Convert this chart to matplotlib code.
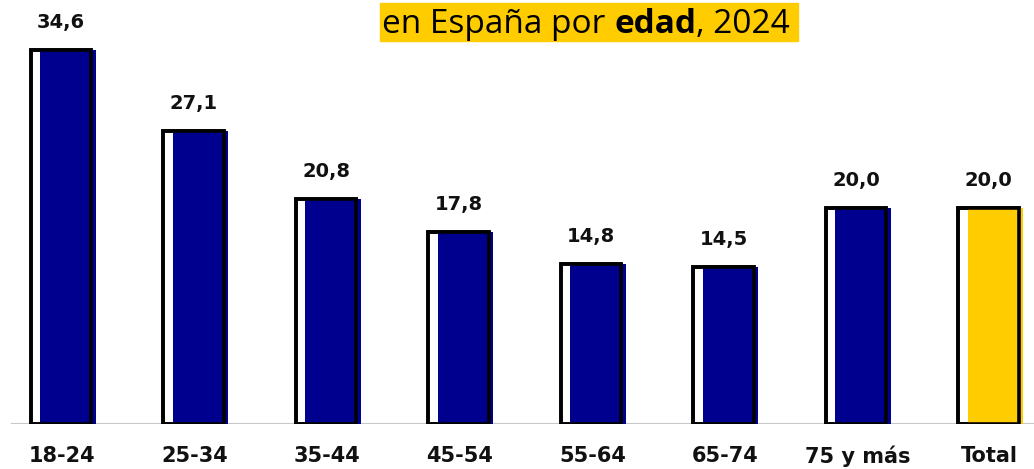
import matplotlib.pyplot as plt
from matplotlib.patches import Rectangle

categories = ["18-24", "25-34", "35-44", "45-54", "55-64", "65-74", "75 y más", "Total"]
values = [34.6, 27.1, 20.8, 17.8, 14.8, 14.5, 20.0, 20.0]
labels = ["34,6", "27,1", "20,8", "17,8", "14,8", "14,5", "20,0", "20,0"]

blue = "#00008f"
yellow = "#ffcc00"
colors = [blue] * 7 + [yellow]

W, H = 1034, 469
fig = plt.figure(figsize=(W / 100, H / 100), dpi=100)
ax = fig.add_axes([0, (H - 424) / H, 1, 424 / H])

x = list(range(len(categories)))
xb = [i + 0.053 for i in x]

# white box behind, coloured bar, outline on top
ax.bar(x, values, width=0.453, color="white", edgecolor="black", linewidth=2.6, zorder=2)
ax.bar(xb, values, width=0.42, color=colors, linewidth=0, zorder=3)
ax.bar(x, values, width=0.453, fill=False, edgecolor="black", linewidth=2.6, zorder=4)

ax.axhline(0, xmin=12 / W, xmax=1, color="#c8c8c8", linewidth=1.5, zorder=1)

for i, v in enumerate(values):
    ax.annotate(labels[i], (x[i], v), xytext=(0, 18), textcoords="offset pixels",
                ha="center", va="bottom", fontsize=14, fontweight="bold",
                family="DejaVu Sans", color="#111111")
    ax.annotate(categories[i], (x[i] + 0.01, 0), xytext=(0, -32), textcoords="offset pixels",
                ha="center", va="center", fontsize=15, fontweight="bold",
                family="DejaVu Sans", color="#111111")

ax.set_xlim(-61 / 132.5, (W - 61) / 132.5)
ax.set_ylim(0, 424 / 10.8)
ax.axis("off")

# title with yellow highlight, "edad" in bold
fig.patches.append(Rectangle((380 / W, (H - 41) / H), 418 / W, 38 / H,
                             transform=fig.transFigure, color=yellow, zorder=0))
ty = (H - 33) / H
parts = [("en España por ", "normal"), ("edad", "bold"), (", 2024", "normal")]
r = fig.canvas.get_renderer()
xpos = 382
for txt, wt in parts:
    t = fig.text(xpos / W, ty, txt, fontsize=24, family="Open Sans", fontweight=wt,
                 va="baseline", ha="left")
    xpos = t.get_window_extent(r).x1

fig.savefig("out.png", dpi=100)
